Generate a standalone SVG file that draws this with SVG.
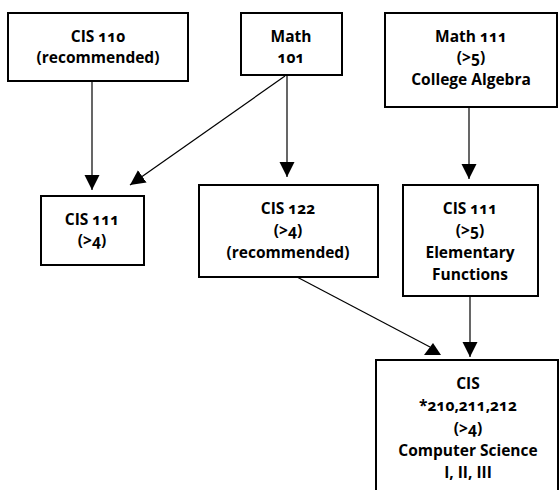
<svg xmlns="http://www.w3.org/2000/svg" width="559" height="490" viewBox="0 0 559 490">
<style>
.box{fill:#fff;stroke:#000;stroke-width:2}
.t{font-family:"Open Sans","Liberation Sans",sans-serif;font-weight:bold;font-size:15.5px;text-anchor:middle;fill:#000;font-variant-numeric:oldstyle-nums}
.c{stroke:#000;stroke-width:1.2;fill:none}
</style>
<defs>
<marker id="ah" markerWidth="16" markerHeight="16" refX="15" refY="7.5" orient="auto" markerUnits="userSpaceOnUse">
<path d="M0,0 L15,7.5 L0,15 Z" fill="#000"/>
</marker>
<marker id="up" markerWidth="20" markerHeight="16" refX="6" refY="4" orient="0" markerUnits="userSpaceOnUse">
<path d="M9,0 L17,12 L0,12 Z" fill="#000"/>
</marker>
</defs>
<rect width="559" height="490" fill="#fff"/>
<g id="connectors">
<line class="c" x1="92" y1="81" x2="92" y2="190" marker-end="url(#ah)"/>
<line class="c" x1="285" y1="76" x2="130" y2="185" marker-end="url(#ah)"/>
<line class="c" x1="287" y1="76" x2="287" y2="177" marker-end="url(#ah)"/>
<line class="c" x1="469" y1="107" x2="469" y2="179" marker-end="url(#ah)"/>
<line class="c" x1="470" y1="296" x2="470" y2="357" marker-end="url(#ah)"/>
<line class="c" x1="297" y1="277" x2="430" y2="347" marker-end="url(#up)"/>
</g>
<g id="cis110">
<rect class="box" x="8" y="13" width="180" height="68"/>
<text class="t" x="98" y="42">CIS 110</text>
<text class="t" x="98" y="63">(recommended)</text>
</g>
<g id="math101">
<rect class="box" x="241" y="13" width="101" height="62"/>
<text class="t" x="291" y="42">Math</text>
<text class="t" x="291" y="63">101</text>
</g>
<g id="math111">
<rect class="box" x="385" y="13" width="172" height="94"/>
<text class="t" x="471" y="42">Math 111</text>
<text class="t" x="471" y="63">(&gt;5)</text>
<text class="t" x="471" y="85">College Algebra</text>
</g>
<g id="cis111a">
<rect class="box" x="41" y="196" width="103" height="69"/>
<text class="t" x="92" y="225">CIS 111</text>
<text class="t" x="92" y="246">(&gt;4)</text>
</g>
<g id="cis122">
<rect class="box" x="199" y="185" width="179" height="92"/>
<text class="t" x="288" y="214">CIS 122</text>
<text class="t" x="288" y="236">(&gt;4)</text>
<text class="t" x="288" y="258">(recommended)</text>
</g>
<g id="cis111b">
<rect class="box" x="403" y="185" width="135" height="111"/>
<text class="t" x="470" y="214">CIS 111</text>
<text class="t" x="470" y="236">(&gt;5)</text>
<text class="t" x="470" y="258">Elementary</text>
<text class="t" x="470" y="280">Functions</text>
</g>
<g id="cis210">
<rect class="box" x="376" y="360" width="182" height="140"/>
<text class="t" x="468" y="389">CIS</text>
<text class="t" x="468" y="411">*210,211,212</text>
<text class="t" x="468" y="434">(&gt;4)</text>
<text class="t" x="468" y="456">Computer Science</text>
<text class="t" x="468" y="478">I, II, III</text>
</g>
</svg>
